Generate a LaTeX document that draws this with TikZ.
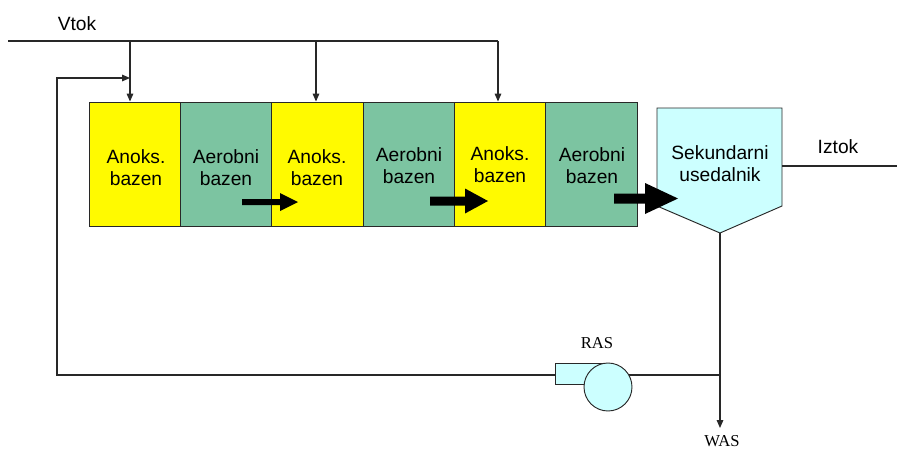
\documentclass[tikz,border=0pt]{standalone}
\usepackage{fontspec}
\setmainfont{Liberation Sans}
\newfontfamily\serifrm{Liberation Serif}
\usetikzlibrary{arrows.meta,calc}
\definecolor{tankyellow}{RGB}{255,250,0}
\definecolor{tankgreen}{RGB}{124,196,161}
\definecolor{clarcyan}{RGB}{204,255,255}
\definecolor{linegray}{RGB}{40,40,40}
\tikzset{
  pipe/.style={draw=linegray, line width=0.8pt},
  arr/.style={pipe, -{Triangle[length=6pt,width=5pt]}},
  tank/.style={draw=linegray, line width=0.7pt, minimum width=68.5pt, minimum height=93pt, inner sep=0pt},
  anox/.style={tank, fill=tankyellow},
  aero/.style={tank, fill=tankgreen},
  lbl/.style={inner sep=0pt, font=\fontsize{14.4}{16.5}\selectfont},
  boxtext/.style={lbl, align=center},
  serlbl/.style={inner sep=0pt, font=\serifrm\fontsize{12.5}{14}\selectfont},
  bigarrow/.style={fill=black, draw=none}
}
\begin{document}
\begin{tikzpicture}[x=0.75pt,y=-0.75pt]
\useasboundingbox (0,0) rectangle (897,450);
% tanks
\node[anox] (t1) at (134.67,164) {};
\node[aero] (t2) at (226,164) {};
\node[anox] (t3) at (317.33,164) {};
\node[aero] (t4) at (408.67,164) {};
\node[anox] (t5) at (500,164) {};
\node[aero] (t6) at (591.33,164) {};
\node[boxtext] (l1) at (136,168) {Anoks.\\bazen};
\node[boxtext] (l2) at (226,168) {Aerobni\\bazen};
\node[boxtext] (l3) at (317,168) {Anoks.\\bazen};
\node[boxtext] (l4) at (409,166) {Aerobni\\bazen};
\node[boxtext] (l5) at (500,165) {Anoks.\\bazen};
\node[boxtext] (l6) at (592,166) {Aerobni\\bazen};
% clarifier
\draw[draw=linegray, line width=0.7pt, fill=clarcyan] (657,108) -- (782,108) -- (782,206) -- (720,233) -- (657,206) -- cycle;
\coordinate (clarbot) at (720,233);
\coordinate (clarright) at (782,166);
\node[boxtext] (clar) at (720,164) {Sekundarni\\usedalnik};
% big flow arrows
\fill[bigarrow] (242,199) -- (280,199) -- (280,193) -- (298,202) -- (280,211) -- (280,205) -- (242,205) -- cycle;
\fill[bigarrow] (430,196.5) -- (465,196.5) -- (465,188.5) -- (488,201) -- (465,213.5) -- (465,205.5) -- (430,205.5) -- cycle;
\fill[bigarrow] (614,193.5) -- (645,193.5) -- (645,183) -- (678,198.5) -- (645,214) -- (645,203.5) -- (614,203.5) -- cycle;
% influent
\node[lbl] (vtok) at (77,24) {Vtok};
\coordinate (vin) at (8,41);
\coordinate (vend) at (498,41);
\coordinate (d1) at (130,41);
\coordinate (d3) at (316,41);
\draw[pipe] (vin) -- (vend);
\draw[arr] (d1) -- (d1 |- t1.north);
\draw[arr] (d3) -- (d3 |- t3.north);
\draw[arr] (vend) -- (vend |- t5.north);
% effluent
\coordinate (iztokend) at (897,166);
\draw[pipe] (clarright) -- (iztokend);
\node[lbl] (iztok) at (838,147) {Iztok};
% RAS pump
\coordinate (junc) at (720,375);
\draw[pipe] (junc) -- (620,375);
\draw[draw=linegray, line width=0.7pt, fill=clarcyan] (555,363) rectangle (602,384);
\node[draw=linegray, line width=0.7pt, fill=clarcyan, circle, minimum size=36pt, inner sep=0pt] (pump) at (608,387) {};
\node[serlbl] (ras) at (597,343) {RAS};
\coordinate (retcorner) at (57,375);
\coordinate (rettop) at (57,78);
\draw[arr] (555,375) -- (retcorner) -- (rettop) -- (d1 |- rettop);
% WAS
\draw[arr] (clarbot) -- (720,428);
\node[serlbl] (was) at (722,441) {WAS};
\end{tikzpicture}
\end{document}
